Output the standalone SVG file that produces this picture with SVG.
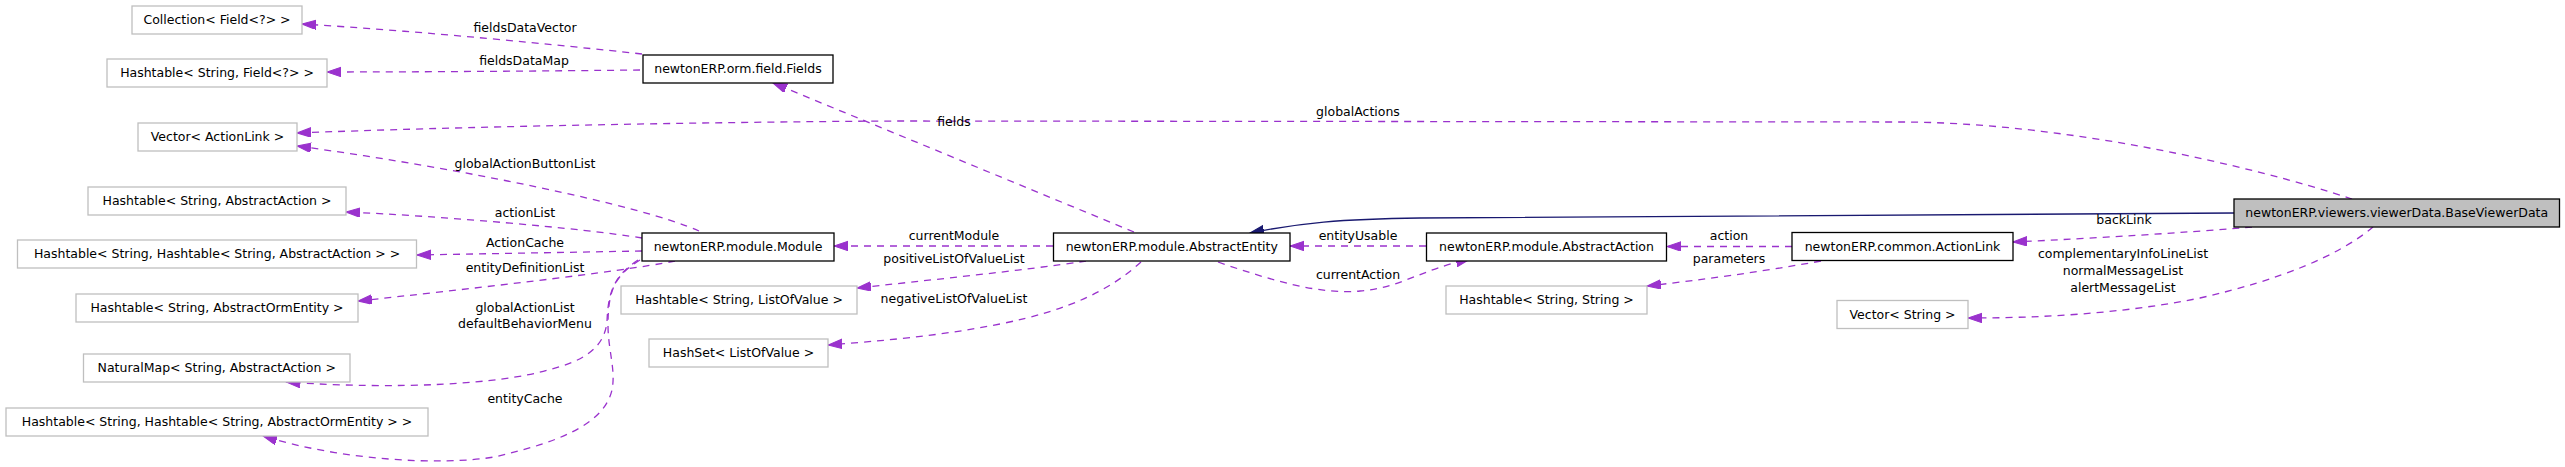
<svg xmlns="http://www.w3.org/2000/svg" width="2565" height="467" viewBox="0 0 2565 467">
<style>
text{font-family:"DejaVu Sans","Liberation Sans",sans-serif;font-size:12.5px;fill:#000;text-anchor:middle}
.n rect{fill:#fff;stroke:#000;stroke-width:1.3}
.x rect{fill:#fff;stroke:#bfbfbf;stroke-width:1.3}
.cur rect{fill:#bfbfbf;stroke:#000;stroke-width:1.3}
.u{fill:none;stroke:#9a32cd;stroke-width:1.3;stroke-dasharray:7,6;marker-end:url(#ap)}
.i{fill:none;stroke:#191970;stroke-width:1.3;marker-end:url(#ab)}
</style>
<defs>
<marker id="ap" markerUnits="userSpaceOnUse" markerWidth="15" markerHeight="11" refX="14" refY="4.75" orient="auto"><path d="M0,0 L14,4.75 L0,9.5 z" fill="#9a32cd" stroke="#9a32cd" stroke-width="1"/></marker>
<marker id="ab" markerUnits="userSpaceOnUse" markerWidth="15" markerHeight="11" refX="14" refY="4.75" orient="auto"><path d="M0,0 L14,4.75 L0,9.5 z" fill="#191970" stroke="#191970" stroke-width="1"/></marker>
</defs>
<rect width="2565" height="467" fill="#fff"/>
<g id="edges">
<path class="u" d="M642,54 C560,45 420,31 302,24"/>
<path class="u" d="M640,70 C550,71 420,72 327,72"/>
<path class="u" d="M1134,232 L773,83"/>
<path class="u" d="M2352,199 C2250,165 2060,122 1900,122 L900,121 C700,122 450,127 297,133"/>
<path class="u" d="M699,231 C640,205 460,168 297,146"/>
<path class="u" d="M642,238 C580,228 440,216 346,212"/>
<path class="u" d="M642,251 L417,255"/>
<path class="u" d="M675,261 C620,272 460,290 358,301"/>
<path class="u" d="M638,260 C614,276 608,292 607,322 C604,350 580,362 548,370 C500,384 400,390 286,382"/>
<path class="u" d="M640,260 C615,275 608,290 608,325 C608,350 616,370 612,390 C605,420 570,440 494,457 C440,466 340,460 263,436"/>
<path class="u" d="M1053,246 L834,246"/>
<path class="u" d="M1086,261 C1020,271 920,281 857,288"/>
<path class="u" d="M1141,262 C1110,290 1070,310 1000,324 C940,336 880,341 828,345"/>
<path class="u" d="M1426,246 L1290,246"/>
<path class="u" d="M1218,262 C1270,280 1320,295 1360,291 C1400,288 1420,270 1470,259"/>
<path class="u" d="M1792,246.5 L1667,246.5"/>
<path class="u" d="M1821,261 C1760,272 1700,280 1647,286"/>
<path class="i" d="M2234,213 L1420,218 C1340,219 1300,223 1250,233"/>
<path class="u" d="M2252,227 C2180,233 2100,238 2013,242"/>
<path class="u" d="M2373,227 C2340,255 2280,280 2200,298 C2120,314 2040,318 1968,318"/>
<text x="525" y="32">fieldsDataVector</text>
<text x="524" y="65">fieldsDataMap</text>
<text x="954" y="126">fields</text>
<text x="1358" y="116">globalActions</text>
<text x="525" y="168">globalActionButtonList</text>
<text x="525" y="217">actionList</text>
<text x="525" y="247">ActionCache</text>
<text x="525" y="272">entityDefinitionList</text>
<text x="525" y="312">globalActionList</text>
<text x="525" y="328">defaultBehaviorMenu</text>
<text x="525" y="403">entityCache</text>
<text x="954" y="240">currentModule</text>
<text x="954" y="263">positiveListOfValueList</text>
<text x="954" y="303">negativeListOfValueList</text>
<text x="1358" y="240">entityUsable</text>
<text x="1358" y="279">currentAction</text>
<text x="1729" y="240">action</text>
<text x="1729" y="263">parameters</text>
<text x="2124" y="224">backLink</text>
<text x="2123" y="258">complementaryInfoLineList</text>
<text x="2123" y="275">normalMessageList</text>
<text x="2123" y="292">alertMessageList</text>
</g>
<g id="n_coll" class="x"><rect x="132" y="6" width="170" height="28"/><text x="217" y="24">Collection&lt; Field&lt;?&gt; &gt;</text></g>
<g id="n_htfield" class="x"><rect x="107" y="59" width="220" height="28"/><text x="217" y="77">Hashtable&lt; String, Field&lt;?&gt; &gt;</text></g>
<g id="n_fields" class="n"><rect x="643" y="55" width="190" height="28"/><text x="738" y="73">newtonERP.orm.field.Fields</text></g>
<g id="n_vecal" class="x"><rect x="138" y="123" width="159" height="28"/><text x="217.5" y="141">Vector&lt; ActionLink &gt;</text></g>
<g id="n_htaa" class="x"><rect x="88" y="187" width="258" height="28"/><text x="217" y="205">Hashtable&lt; String, AbstractAction &gt;</text></g>
<g id="n_module" class="n"><rect x="642" y="233" width="192" height="28"/><text x="738" y="251">newtonERP.module.Module</text></g>
<g id="n_hthtaa" class="x"><rect x="17.5" y="240" width="399" height="28"/><text x="217" y="258">Hashtable&lt; String, Hashtable&lt; String, AbstractAction &gt; &gt;</text></g>
<g id="n_htoe" class="x"><rect x="76" y="294" width="282" height="28"/><text x="217" y="312">Hashtable&lt; String, AbstractOrmEntity &gt;</text></g>
<g id="n_htlov" class="x"><rect x="621" y="286" width="236" height="28"/><text x="739" y="304">Hashtable&lt; String, ListOfValue &gt;</text></g>
<g id="n_hslov" class="x"><rect x="649" y="339" width="179" height="28"/><text x="738.5" y="357">HashSet&lt; ListOfValue &gt;</text></g>
<g id="n_nm" class="x"><rect x="83.5" y="354" width="266.5" height="28"/><text x="216.75" y="372">NaturalMap&lt; String, AbstractAction &gt;</text></g>
<g id="n_hthtoe" class="x"><rect x="6" y="408" width="422" height="28"/><text x="217" y="426">Hashtable&lt; String, Hashtable&lt; String, AbstractOrmEntity &gt; &gt;</text></g>
<g id="n_ae" class="n"><rect x="1053.5" y="233" width="236.5" height="28"/><text x="1171.75" y="251">newtonERP.module.AbstractEntity</text></g>
<g id="n_aa" class="n"><rect x="1426.5" y="233" width="240" height="28"/><text x="1546.5" y="251">newtonERP.module.AbstractAction</text></g>
<g id="n_htss" class="x"><rect x="1446" y="286" width="201" height="28"/><text x="1546.5" y="304">Hashtable&lt; String, String &gt;</text></g>
<g id="n_al" class="n"><rect x="1792" y="232.5" width="221" height="28"/><text x="1902.5" y="250.5">newtonERP.common.ActionLink</text></g>
<g id="n_bvd" class="cur"><rect x="2234" y="199" width="325.5" height="28"/><text x="2396.75" y="217">newtonERP.viewers.viewerData.BaseViewerData</text></g>
<g id="n_vs" class="x"><rect x="1837" y="300.5" width="131" height="28"/><text x="1902.5" y="318.5">Vector&lt; String &gt;</text></g>
</svg>
